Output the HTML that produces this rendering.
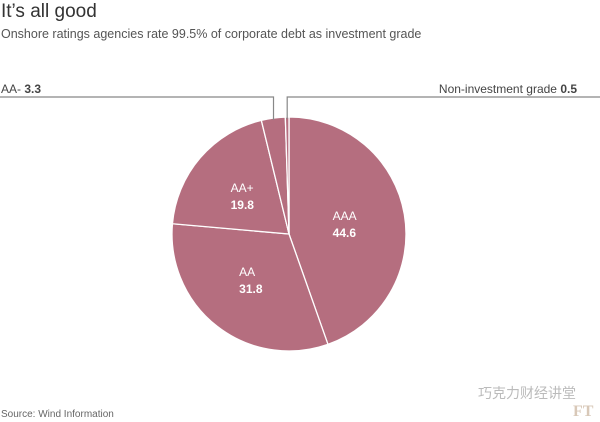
<!DOCTYPE html>
<html><head><meta charset="utf-8"><style>
body{margin:0;width:600px;height:422px;background:#fff;font-family:"Liberation Sans","Noto Sans CJK SC",sans-serif;overflow:hidden;position:relative}
.t{position:absolute;white-space:nowrap}
</style></head><body>
<div class="t" style="left:1px;top:1px;font-size:19px;color:#333">It’s all good</div>
<div class="t" style="left:1px;top:27px;font-size:12.5px;color:#555">Onshore ratings agencies rate 99.5% of corporate debt as investment grade</div>
<svg id="chart" width="600" height="422" style="position:absolute;left:0;top:0"></svg>
<div class="t" style="left:1px;top:409px;font-size:10px;color:#666">Source: Wind Information</div>
<div class="t" style="left:478px;top:383px;font-size:14px;color:#bbb">巧克力财经讲堂</div>
<div class="t" style="left:573px;top:403px;font-size:16px;font-family:'Liberation Serif',serif;font-weight:bold;color:#d8c8b8">FT</div>
<script>
const categories=["AAA","AA","AA+","AA-","Non-investment grade"];
const values=[44.6,31.8,19.8,3.3,0.5];
const svg=document.getElementById('chart');
const NS='http://www.w3.org/2000/svg';
const cx=289,cy=234,r=117;
const total=values.reduce((a,b)=>a+b,0);
function pt(frac,rad){const a=frac*2*Math.PI;return [cx+rad*Math.sin(a),cy-rad*Math.cos(a)];}
let cum=0;const mids=[];
values.forEach((v,i)=>{
  const s=cum/total,e=(cum+v)/total;cum+=v;
  const p1=pt(s,r),p2=pt(e,r);
  const path=document.createElementNS(NS,'path');
  path.setAttribute('d',`M${cx},${cy}L${p1[0]},${p1[1]}A${r},${r} 0 ${e-s>0.5?1:0} 1 ${p2[0]},${p2[1]}Z`);
  path.setAttribute('fill','#b56e7f');path.setAttribute('stroke','#fff');path.setAttribute('stroke-width','1.3');
  
  
  svg.appendChild(path);
  mids.push((s+e)/2);
});
function txt(x,y,str,opts){const t=document.createElementNS(NS,'text');t.setAttribute('x',x);t.setAttribute('y',y);t.textContent=str;t.setAttribute('font-size',opts.size||12);t.setAttribute('fill',opts.fill||'#fff');if(opts.bold)t.setAttribute('font-weight','bold');if(opts.anchor)t.setAttribute('text-anchor',opts.anchor);t.setAttribute('font-family','Liberation Sans, sans-serif');svg.appendChild(t);return t;}
// inner labels for big slices
[0,1,2].forEach(i=>{
  const p=pt(mids[i],r*0.5);
  const x=p[0]-14;
  const l1=txt(x,p[1]-4,categories[i],{});
  
  
  const l2=txt(x,p[1]+13,values[i].toFixed(1),{bold:true});
  
  
});
// leader lines
function leader(i,side){
  const p=pt(mids[i],r-2);const y=97;
  const pl=document.createElementNS(NS,'polyline');
  pl.setAttribute('points',side<0?`0,${y} ${p[0]},${y} ${p[0]},${p[1]}`:`600,${y} ${p[0]},${y} ${p[0]},${p[1]}`);
  pl.setAttribute('fill','none');pl.setAttribute('stroke','#888');pl.setAttribute('stroke-width','1.2');
  
  
  svg.appendChild(pl);
}
leader(3,-1);leader(4,1);
const a=txt(1,93,'',{fill:'#444'});a.innerHTML=categories[3]+' <tspan font-weight="bold">'+values[3].toFixed(1)+'</tspan>';


const b=txt(577,93,'',{fill:'#444',anchor:'end'});b.innerHTML=categories[4]+' <tspan font-weight="bold">'+values[4].toFixed(1)+'</tspan>';


</script>
</body></html>
